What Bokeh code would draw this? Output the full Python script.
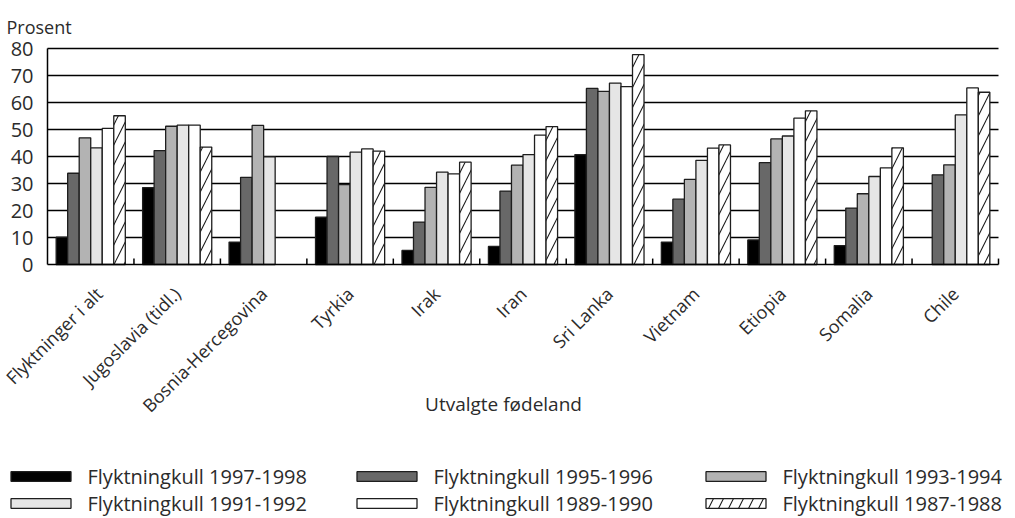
import math
from bokeh.plotting import figure
from bokeh.models import (ColumnDataSource, Range1d, FixedTicker,
                          Legend, LegendItem, Label)
from bokeh.transform import dodge
from bokeh.embed import file_html
from bokeh.resources import INLINE

# ---------------- data ----------------
categories = ["Flyktninger i alt", "Jugoslavia (tidl.)", "Bosnia-Hercegovina",
              "Tyrkia", "Irak", "Iran", "Sri Lanka", "Vietnam", "Etiopia",
              "Somalia", "Chile"]
series_names = ["Flyktningkull 1997-1998", "Flyktningkull 1995-1996",
                "Flyktningkull 1993-1994", "Flyktningkull 1991-1992",
                "Flyktningkull 1989-1990", "Flyktningkull 1987-1988"]
k1997_1998 = [10.1, 28.5, 8.3, 17.5, 5.2, 6.7, 40.7, 8.3, 9.1, 7.0, None]
k1995_1996 = [33.8, 42.2, 32.3, 40.0, 15.7, 27.2, 65.2, 24.2, 37.7, 20.9, 33.2]
k1993_1994 = [46.9, 51.2, 51.5, 29.6, 28.6, 36.8, 64.1, 31.5, 46.5, 26.2, 36.9]
k1991_1992 = [43.2, 51.6, 39.9, 41.6, 34.2, 40.7, 67.2, 38.6, 47.6, 32.6, 55.4]
k1989_1990 = [50.4, 51.6, None, 42.8, 33.6, 47.9, 65.9, 43.1, 54.2, 35.8, 65.4]
k1987_1988 = [55.1, 43.5, None, 42.0, 37.9, 51.1, 77.7, 44.3, 56.9, 43.2, 63.8]
y_ticks = [0, 10, 20, 30, 40, 50, 60, 70, 80]

series_values = [k1997_1998, k1995_1996, k1993_1994, k1991_1992, k1989_1990, k1987_1988]
fills = ["#000000", "#686868", "#b3b3b3", "#e6e6e6", "#ffffff", "#ffffff"]
hatches = [None, None, None, None, None, "/"]

FONT = "Open Sans"
TXT = "#2b2b2b"

# ---------------- canvas geometry (pixels) ----------------
W, H = 1015, 518
PX_LEFT, PX_RIGHT = 47, 998      # plot area left / right edge
PX_TOP, PX_ZERO = 48, 264        # y = 80 and y = 0
n = len(categories)
ymax = y_ticks[-1]
ux = (PX_RIGHT - PX_LEFT) / n    # px per category
uy = (PX_ZERO - PX_TOP) / ymax   # px per percent
x_start = -PX_LEFT / ux
x_end = n + (W - PX_RIGHT) / ux
y_start = -(H - PX_ZERO) / uy
y_end = ymax + PX_TOP / uy


def clean(vals):
    return [float("nan") if v is None else v for v in vals]


centers = [i + 0.5 for i in range(n)]
data = {"x": centers}
for i, vals in enumerate(series_values):
    data[f"s{i}"] = clean(vals)
src = ColumnDataSource(data)

p = figure(x_range=Range1d(x_start, x_end), y_range=Range1d(y_start, y_end),
           width=W, height=H, output_backend="svg", toolbar_location=None,
           min_border=0, min_border_left=0, min_border_right=0,
           min_border_top=0, min_border_bottom=0)
p.outline_line_color = None
p.grid.visible = False

# horizontal grid lines across the category area only (behind the bars)
grid_y = y_ticks[1:]
p.segment(x0=[0] * len(grid_y), y0=grid_y, x1=[n] * len(grid_y), y1=grid_y,
          line_color="black", line_width=1.4, level="underlay")

bw = 0.1333
offsets = [(i - 2.5) * bw for i in range(6)]
renderers = []
for i in range(6):
    kw = dict(fill_color=fills[i], line_color="#1e1e1e", line_width=1.3)
    if hatches[i]:
        kw.update(hatch_pattern=hatches[i], hatch_color="#1e1e1e",
                  hatch_scale=20, hatch_weight=1.1)
    r = p.vbar(x=dodge("x", offsets[i], range=p.x_range), top=f"s{i}",
               width=bw, source=src, **kw)
    renderers.append(r)

# category boundary ticks on the base line
bounds = list(range(1, n + 1))
p.segment(x0=bounds, y0=[0] * n, x1=bounds, y1=[2.2] * n,
          line_color="black", line_width=1.5)

# y axis, drawn at the left edge of the category area
p.yaxis.fixed_location = 0
p.yaxis.bounds = (0, ymax)
p.yaxis.ticker = FixedTicker(ticks=y_ticks)
p.yaxis.major_tick_line_color = None
p.yaxis.minor_tick_line_color = None
p.yaxis.major_tick_out = 0
p.yaxis.major_tick_in = 0
p.yaxis.major_label_standoff = 14
p.yaxis.axis_line_color = "black"
p.yaxis.axis_line_width = 1.5
p.yaxis.major_label_text_font = FONT
p.yaxis.major_label_text_font_size = "20px"
p.yaxis.major_label_text_color = TXT

# x axis at y = 0 with the country names
p.xaxis.fixed_location = 0
p.xaxis.bounds = (0, n)
p.xaxis.ticker = FixedTicker(ticks=centers)
p.xaxis.major_label_overrides = {c: name for c, name in zip(centers, categories)}
p.xaxis.major_label_orientation = math.pi / 4
p.xaxis.major_tick_line_color = None
p.xaxis.minor_tick_line_color = None
p.xaxis.major_tick_out = 0
p.xaxis.major_tick_in = 0
p.xaxis.major_label_standoff = 26
p.xaxis.axis_line_color = "black"
p.xaxis.axis_line_width = 1.5
p.xaxis.major_label_text_font = FONT
p.xaxis.major_label_text_font_size = "18px"
p.xaxis.major_label_text_color = TXT

# texts
p.add_layout(Label(x=6, y=H - 26, x_units="screen", y_units="screen",
                   text="Prosent", text_font=FONT, text_font_size="18px",
                   text_color=TXT, text_baseline="alphabetic"))
p.add_layout(Label(x=503, y=H - 403, x_units="screen", y_units="screen",
                   text="Utvalgte fødeland", text_font=FONT, text_font_size="19px",
                   text_color=TXT, text_align="center", text_baseline="middle"))

# legends: three columns, two rows
col_x = [2.5, 348.5, 697.5]
for c in range(3):
    items = [LegendItem(label=series_names[c], renderers=[renderers[c]]),
             LegendItem(label=series_names[c + 3], renderers=[renderers[c + 3]])]
    leg = Legend(items=items, location=(col_x[c], 1.5), orientation="vertical",
                 glyph_width=75, glyph_height=12, label_standoff=10, spacing=0,
                 padding=0, margin=0, border_line_color=None,
                 background_fill_alpha=0, label_height=20,
                 label_text_font=FONT, label_text_font_size="20px",
                 label_text_color=TXT)
    p.add_layout(leg)

open("out.html", "w").write(file_html(p, INLINE))
